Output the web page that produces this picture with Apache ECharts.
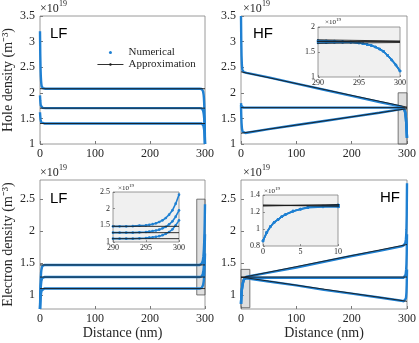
<!DOCTYPE html>
<html>
<head>
<meta charset="utf-8">
<script src="https://cdn.jsdelivr.net/npm/echarts@6/dist/echarts.min.js"></script>
<style>
html, body { margin: 0; padding: 0; background: #fff; }
#chart { width: 419px; height: 343px; }
</style>
</head>
<body>
<div id="chart"></div>
<script>
// positions along the device (nm), dense near both contacts
var xs = [0, 0.5, 1, 1.5, 2, 2.5, 3, 4, 5, 6, 8, 10, 50, 100, 150, 200, 250,
          290, 291, 292, 293, 294, 295, 295.5, 296, 296.5, 297, 297.5, 298, 298.5, 299, 299.5, 300];

// hole density, LF (x1e19 m^-3)
var holeLFTop = [3.20, 2.75, 2.48, 2.32, 2.23, 2.17, 2.13, 2.10, 2.09, 2.085, 2.08, 2.08,
                 2.08, 2.08, 2.08, 2.08, 2.08,
                 2.08, 2.08, 2.08, 2.08, 2.075, 2.07, 2.06, 2.05, 2.03, 2.00, 1.96, 1.90, 1.80, 1.65, 1.40, 1.00];
var holeLFMid = [1.95, 1.85, 1.79, 1.75, 1.73, 1.72, 1.715, 1.71, 1.705, 1.70, 1.70, 1.70,
                 1.70, 1.70, 1.70, 1.70, 1.70,
                 1.70, 1.70, 1.70, 1.70, 1.695, 1.69, 1.68, 1.67, 1.655, 1.63, 1.60, 1.56, 1.50, 1.40, 1.25, 1.00];
var holeLFBot = [1.62, 1.54, 1.48, 1.45, 1.43, 1.42, 1.41, 1.405, 1.40, 1.40, 1.40, 1.40,
                 1.40, 1.40, 1.40, 1.40, 1.40,
                 1.40, 1.40, 1.40, 1.40, 1.40, 1.395, 1.39, 1.385, 1.375, 1.36, 1.34, 1.31, 1.27, 1.21, 1.12, 1.00];

// hole density, HF
var holeHFTop = [3.50, 3.00, 2.72, 2.57, 2.49, 2.45, 2.43, 2.415, 2.405, 2.40, 2.395, 2.39,
                 2.30, 2.18, 2.06, 1.94, 1.82,
                 1.73, 1.725, 1.72, 1.71, 1.70, 1.68, 1.665, 1.65, 1.63, 1.60, 1.56, 1.51, 1.43, 1.34, 1.24, 1.12];
var holeHFMid = [1.80, 1.75, 1.73, 1.72, 1.715, 1.71, 1.71, 1.71, 1.71, 1.71, 1.71, 1.71,
                 1.71, 1.71, 1.71, 1.71, 1.71,
                 1.71, 1.71, 1.71, 1.705, 1.70, 1.68, 1.665, 1.65, 1.63, 1.60, 1.56, 1.51, 1.43, 1.34, 1.24, 1.12];
var holeHFBot = [1.76, 1.55, 1.41, 1.33, 1.28, 1.255, 1.24, 1.225, 1.22, 1.215, 1.215, 1.22,
                 1.29, 1.37, 1.45, 1.53, 1.61,
                 1.68, 1.685, 1.69, 1.69, 1.69, 1.68, 1.665, 1.65, 1.63, 1.60, 1.56, 1.51, 1.43, 1.34, 1.24, 1.12];

// electron density, LF
var elecLFTop = [0.78, 1.02, 1.18, 1.28, 1.35, 1.39, 1.42, 1.45, 1.46, 1.465, 1.47, 1.47,
                 1.47, 1.47, 1.47, 1.47, 1.47,
                 1.47, 1.47, 1.47, 1.475, 1.49, 1.50, 1.515, 1.535, 1.56, 1.60, 1.65, 1.72, 1.82, 1.95, 2.15, 2.42];
var elecLFMid = [0.78, 0.94, 1.05, 1.13, 1.18, 1.22, 1.24, 1.265, 1.275, 1.28, 1.28, 1.28,
                 1.28, 1.28, 1.28, 1.28, 1.28,
                 1.28, 1.28, 1.28, 1.28, 1.29, 1.30, 1.31, 1.33, 1.345, 1.37, 1.41, 1.455, 1.53, 1.62, 1.76, 1.95];
var elecLFBot = [0.78, 0.87, 0.94, 0.99, 1.03, 1.055, 1.07, 1.09, 1.095, 1.10, 1.10, 1.10,
                 1.10, 1.10, 1.10, 1.10, 1.10,
                 1.10, 1.10, 1.10, 1.10, 1.11, 1.12, 1.13, 1.14, 1.155, 1.175, 1.205, 1.245, 1.30, 1.38, 1.50, 1.65];

// electron density, HF
var elecHFTop = [0.86, 0.96, 1.03, 1.08, 1.11, 1.145, 1.17, 1.21, 1.235, 1.255, 1.27, 1.285,
                 1.35, 1.43, 1.52, 1.61, 1.69,
                 1.76, 1.76, 1.765, 1.77, 1.775, 1.78, 1.785, 1.79, 1.80, 1.815, 1.835, 1.87, 1.93, 2.03, 2.25, 2.75];
var elecHFMid = [0.86, 0.96, 1.03, 1.08, 1.11, 1.145, 1.17, 1.21, 1.235, 1.255, 1.265, 1.27,
                 1.27, 1.27, 1.27, 1.27, 1.27,
                 1.27, 1.27, 1.27, 1.27, 1.27, 1.27, 1.275, 1.28, 1.29, 1.30, 1.32, 1.35, 1.40, 1.48, 1.65, 1.95];
var elecHFBot = [0.86, 0.96, 1.03, 1.08, 1.11, 1.145, 1.17, 1.21, 1.23, 1.25, 1.26, 1.26,
                 1.21, 1.15, 1.08, 1.02, 0.96,
                 0.91, 0.91, 0.905, 0.905, 0.90, 0.90, 0.90, 0.905, 0.91, 0.915, 0.925, 0.945, 0.98, 1.04, 1.17, 1.40];

// approximation lines (end points at 0 and 300 nm)
var xa = [0, 300];
var apHoleLFTop = [2.08, 2.08], apHoleLFMid = [1.70, 1.70], apHoleLFBot = [1.40, 1.40];
var apHoleHFTop = [2.41, 1.72], apHoleHFMid = [1.71, 1.71], apHoleHFBot = [1.21, 1.69];
var apElecLFTop = [1.47, 1.47], apElecLFMid = [1.28, 1.28], apElecLFBot = [1.10, 1.10];
var apElecHFTop = [1.27, 1.79], apElecHFMid = [1.28, 1.28], apElecHFBot = [1.28, 0.90];

// zoom boxes drawn in the main panels [[x0,y0],[x1,y1]]
var boxHoleHF = [[284, 1], [300, 2]];
var boxElecLF = [[285, 1], [300, 2.5]];
var boxElecHF = [[0, 0.8], [16, 1.4]];

var holeTicks = [1, 1.5, 2, 2.5, 3, 3.5];
var elecTicks = [1, 1.5, 2, 2.5];

var BLUE = '#1f80d2';
var SERIF = 'Liberation Serif';

function pairs(xv, yv) {
    var out = [];
    for (var i = 0; i < xv.length; i++) {
        out.push([xv[i], yv[i]]);
    }
    return out;
}

var grids = [
    {left: 38, top: 16, width: 167, height: 128},   // 0 hole LF
    {left: 241, top: 16, width: 168, height: 128},  // 1 hole HF
    {left: 38, top: 180, width: 167, height: 129},  // 2 elec LF
    {left: 241, top: 180, width: 168, height: 129}, // 3 elec HF
    {left: 318, top: 27, width: 82, height: 50},    // 4 inset hole HF
    {left: 113, top: 192, width: 66, height: 50},   // 5 inset elec LF
    {left: 263, top: 195, width: 75, height: 51}    // 6 inset elec HF
];
grids.forEach(function (g, i) {
    g.show = true;
    g.borderColor = '#808080';
    g.borderWidth = 0.8;
    g.backgroundColor = i >= 4 ? '#f0f0f0' : 'transparent';
    g.z = i >= 4 ? 5 : 1;
});

function mainX(idx, named) {
    var ax = {
        gridIndex: idx, type: 'value', min: 0, max: 300, interval: 100,
        axisLine: {show: false},
        axisTick: {inside: true, length: 3, lineStyle: {color: '#555', width: 0.8}},
        splitLine: {show: false},
        axisLabel: {fontFamily: SERIF, fontSize: 12, color: '#262626', margin: 4}
    };
    if (named) {
        ax.name = 'Distance (nm)';
        ax.nameLocation = 'middle';
        ax.nameGap = 17;
        ax.nameTextStyle = {fontFamily: SERIF, fontSize: 14, color: '#262626'};
    }
    return ax;
}

function mainY(idx, min, max, ticks, name) {
    var ax = {
        gridIndex: idx, type: 'value', min: min, max: max,
        axisLine: {show: false},
        axisTick: {inside: true, length: 3, customValues: ticks, lineStyle: {color: '#555', width: 0.8}},
        splitLine: {show: false},
        axisLabel: {fontFamily: SERIF, fontSize: 12, color: '#262626', margin: 5, customValues: ticks,
            formatter: function (v) { return String(+v.toFixed(1)); }}
    };
    if (name) {
        ax.name = name;
        ax.nameLocation = 'middle';
        ax.nameGap = 25;
        ax.nameTextStyle = {fontFamily: SERIF, fontSize: 14, color: '#262626'};
    }
    return ax;
}

function insetX(idx, min, max) {
    return {
        gridIndex: idx, type: 'value', min: min, max: max, interval: 5, z: 8,
        axisLine: {show: false},
        axisTick: {inside: true, length: 2, lineStyle: {color: '#555', width: 0.6}},
        splitLine: {show: false},
        axisLabel: {fontFamily: SERIF, fontSize: 8, color: '#262626', margin: 2}
    };
}

function insetY(idx, min, max, step) {
    return {
        gridIndex: idx, type: 'value', min: min, max: max, interval: step, z: 8,
        axisLine: {show: false},
        axisTick: {inside: true, length: 2, lineStyle: {color: '#555', width: 0.6}},
        splitLine: {show: false},
        axisLabel: {fontFamily: SERIF, fontSize: 8, color: '#262626', margin: 3,
            formatter: function (v) { return String(+v.toFixed(1)); }}
    };
}

var xAxes = [
    mainX(0, false), mainX(1, false), mainX(2, true), mainX(3, true),
    insetX(4, 290, 300), insetX(5, 290, 300), insetX(6, 0, 10)
];
var yAxes = [
    mainY(0, 1, 3.5, holeTicks, 'Hole density (m\u207B\u00B3)'),
    mainY(1, 1, 3.5, holeTicks, null),
    mainY(2, 0.78, 2.8, elecTicks, 'Electron density (m\u207B\u00B3)'),
    mainY(3, 0.78, 2.8, elecTicks, null),
    insetY(4, 1, 2, 0.5), insetY(5, 1, 2.5, 0.5), insetY(6, 0.8, 1.4, 0.2)
];

var series = [];

function addPanel(idx, nums, aps, box, inset) {
    nums.forEach(function (ys, k) {
        var s = {
            name: 'Numerical', type: 'line', xAxisIndex: idx, yAxisIndex: idx,
            data: pairs(xs, ys), clip: true, animation: false,
            color: BLUE,
            lineStyle: {color: BLUE, width: inset ? 1.6 : 2.4},
            showSymbol: !!inset, symbol: 'circle', symbolSize: 2.6,
            itemStyle: {color: BLUE},
            z: inset ? 6 : 2
        };
        if (box && k === 0) {
            s.markArea = {
                silent: true,
                itemStyle: {color: 'rgba(185,185,185,0.45)', borderColor: '#555', borderWidth: 0.8},
                data: [[{coord: box[0]}, {coord: box[1]}]]
            };
        }
        series.push(s);
    });
    aps.forEach(function (ys) {
        series.push({
            name: 'Approximation', type: 'line', xAxisIndex: idx, yAxisIndex: idx,
            data: pairs(xa, ys), clip: true, animation: false,
            color: '#1a1a1a',
            lineStyle: {color: '#1a1a1a', width: 0.9},
            symbol: 'none',
            z: inset ? 7 : 3
        });
    });
}

addPanel(0, [holeLFTop, holeLFMid, holeLFBot], [apHoleLFTop, apHoleLFMid, apHoleLFBot], null, false);
addPanel(1, [holeHFTop, holeHFMid, holeHFBot], [apHoleHFTop, apHoleHFMid, apHoleHFBot], boxHoleHF, false);
addPanel(2, [elecLFTop, elecLFMid, elecLFBot], [apElecLFTop, apElecLFMid, apElecLFBot], boxElecLF, false);
addPanel(3, [elecHFTop, elecHFMid, elecHFBot], [apElecHFTop, apElecHFMid, apElecHFBot], boxElecHF, false);
addPanel(4, [holeHFTop, holeHFMid, holeHFBot], [apHoleHFTop, apHoleHFMid, apHoleHFBot], null, true);
addPanel(5, [elecLFTop, elecLFMid, elecLFBot], [apElecLFTop, apElecLFMid, apElecLFBot], null, true);
addPanel(6, [elecHFTop, elecHFMid, elecHFBot], [apElecHFTop, apElecHFMid, apElecHFBot], null, true);

// x10^19 exponent labels
function expo(x, y, big) {
    var f1 = big ? 12 : 7, f2 = big ? 8 : 5;
    return [
        {type: 'text', left: x, top: y + (big ? 3 : 2), z: 10,
            style: {text: '\u00D710', font: f1 + 'px "' + SERIF + '"', fill: '#262626'}},
        {type: 'text', left: x + (big ? 19 : 11), top: y, z: 10,
            style: {text: '19', font: f2 + 'px "' + SERIF + '"', fill: '#262626'}}
    ];
}

function tag(txt, x, y) {
    return {type: 'text', left: x, top: y, z: 10,
        style: {text: txt, font: '15px "Liberation Sans"', fill: '#000'}};
}

var graphics = [].concat(
    expo(40, 0, true), expo(243, 0, true), expo(40, 164, true), expo(243, 164, true),
    expo(325, 17, false), expo(118, 183, false), expo(264, 186, false),
    [tag('LF', 50, 26), tag('HF', 253, 26), tag('LF', 50, 191), tag('HF', 380, 190)]
);

var chart = echarts.init(document.getElementById('chart'), null, {renderer: 'canvas'});
var option = {
    animation: false,
    backgroundColor: '#fff',
    grid: grids,
    xAxis: xAxes,
    yAxis: yAxes,
    legend: {
        orient: 'vertical', left: 92, top: 42, itemGap: 1,
        itemWidth: 26, itemHeight: 3,
        textStyle: {fontFamily: SERIF, fontSize: 11, color: '#262626'},
        data: [
            {name: 'Numerical', icon: 'circle'},
            {name: 'Approximation', lineStyle: {width: 0.9}}
        ],
        selectedMode: false
    },
    graphic: graphics,
    series: series
};
chart.setOption(option);
</script>
</body>
</html>
